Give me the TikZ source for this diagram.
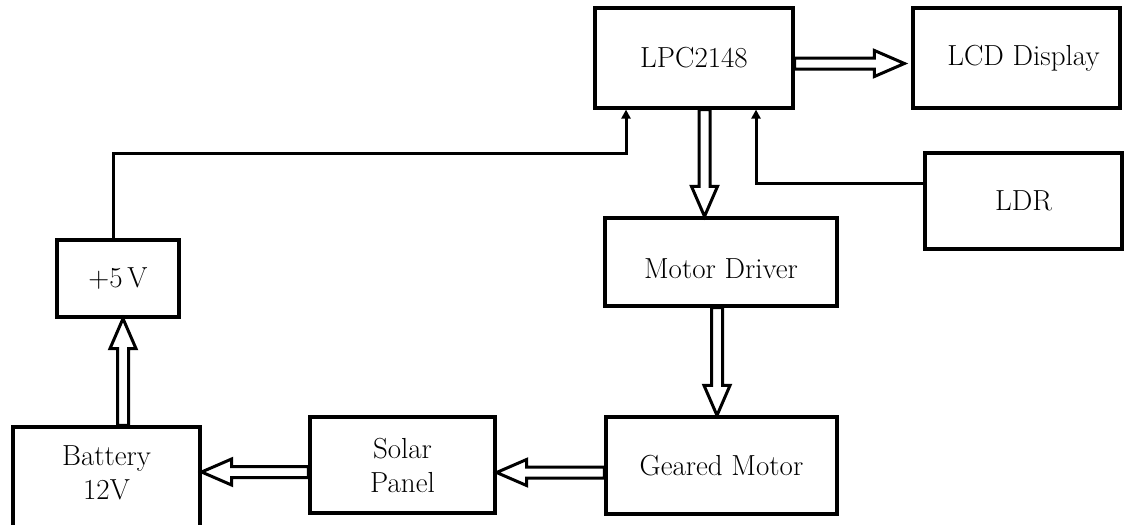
\documentclass[tikz,border=0pt]{standalone}
\usetikzlibrary{calc,arrows.meta}
\newcommand\blockarrow[2]{%
  \coordinate (ba-s) at #1;
  \coordinate (ba-e) at #2;
  \coordinate (ba-h) at ($(ba-e)!30pt!(ba-s)$);
  \draw[blk] ($(ba-s)!5.5pt!90:(ba-e)$) -- ($(ba-h)!5.5pt!90:(ba-e)$)
    -- ($(ba-h)!13pt!90:(ba-e)$) -- (ba-e) -- ($(ba-h)!13pt!-90:(ba-e)$)
    -- ($(ba-h)!5.5pt!-90:(ba-e)$) -- ($(ba-s)!5.5pt!-90:(ba-e)$) -- cycle;}
\begin{document}
\begin{tikzpicture}[x=1pt,y=-1pt,
  box/.style={draw,line width=3.2pt,rectangle,align=center,inner sep=0pt,
    font=\fontsize{29}{34}\selectfont},
  wire/.style={line width=3pt,-{Triangle[length=9pt,width=9pt]}},
  blk/.style={draw,line width=3pt,fill=white,line join=miter}]
\useasboundingbox (0,0) rectangle (1125,525);
\clip (0,0) rectangle (1125,525);
\fill[white] (0,0) rectangle (1125,525);

\node[box,minimum width=198pt,minimum height=100pt] (lpc) at (694,58) {LPC2148};
\node[box,minimum width=207pt,minimum height=100pt] (lcd) at (1016.5,58) {\hspace*{14pt}LCD Display};
\node[box,minimum width=197pt,minimum height=96pt] (ldr) at (1023.5,201) {LDR};
\node[box,minimum width=232pt,minimum height=88pt] (md) at (721,262) {\raisebox{-7pt}[\height][\depth]{Motor Driver}};
\node[box,minimum width=231pt,minimum height=97pt] (gm) at (721.5,465.5) {Geared Motor};
\node[box,minimum width=185pt,minimum height=96pt] (sp) at (402.5,465) {Solar\\Panel};
\node[box,minimum width=187pt,minimum height=103pt] (bat) at (106.5,478.5) {Battery\\12V\\[-22pt]\mbox{}};
\node[box,minimum width=122pt,minimum height=77pt] (p5) at (118,278.5) {+5\,V};

% single-line connectors
\coordinate (c1) at ($(p5.north)+(-5,0)$);
\coordinate (c2) at ($(lpc.south)+(-68,44)$);
\coordinate (c3) at ($(lpc.south)+(-68,0)$);
\draw[wire] (c1) |- (c2) -- (c3);
\coordinate (c4) at ($(ldr.west)+(0,-18)$);
\coordinate (c5) at ($(lpc.south)+(62,0)$);
\draw[wire] (c4) -| (c5);

% block arrows
\coordinate (a1) at ($(lpc.east)+(0,5.5)$);
\coordinate (a2) at ($(lcd.west)+(-7,5.5)$);
\blockarrow{(a1)}{(a2)}
\coordinate (b1) at ($(lpc.south)+(10.5,0)$);
\blockarrow{(b1)}{(b1 |- md.north)}
\coordinate (d1) at ($(md.south)+(-4,0)$);
\blockarrow{(d1)}{(d1 |- gm.north)}
\coordinate (e1) at ($(gm.west)+(0,7)$);
\blockarrow{(e1)}{(e1 -| sp.east)}
\coordinate (f1) at ($(sp.west)+(0,7)$);
\blockarrow{(f1)}{(f1 -| bat.east)}
\coordinate (g1) at ($(bat.north)+(16.5,0)$);
\blockarrow{(g1)}{(g1 |- p5.south)}
\end{tikzpicture}
\end{document}
